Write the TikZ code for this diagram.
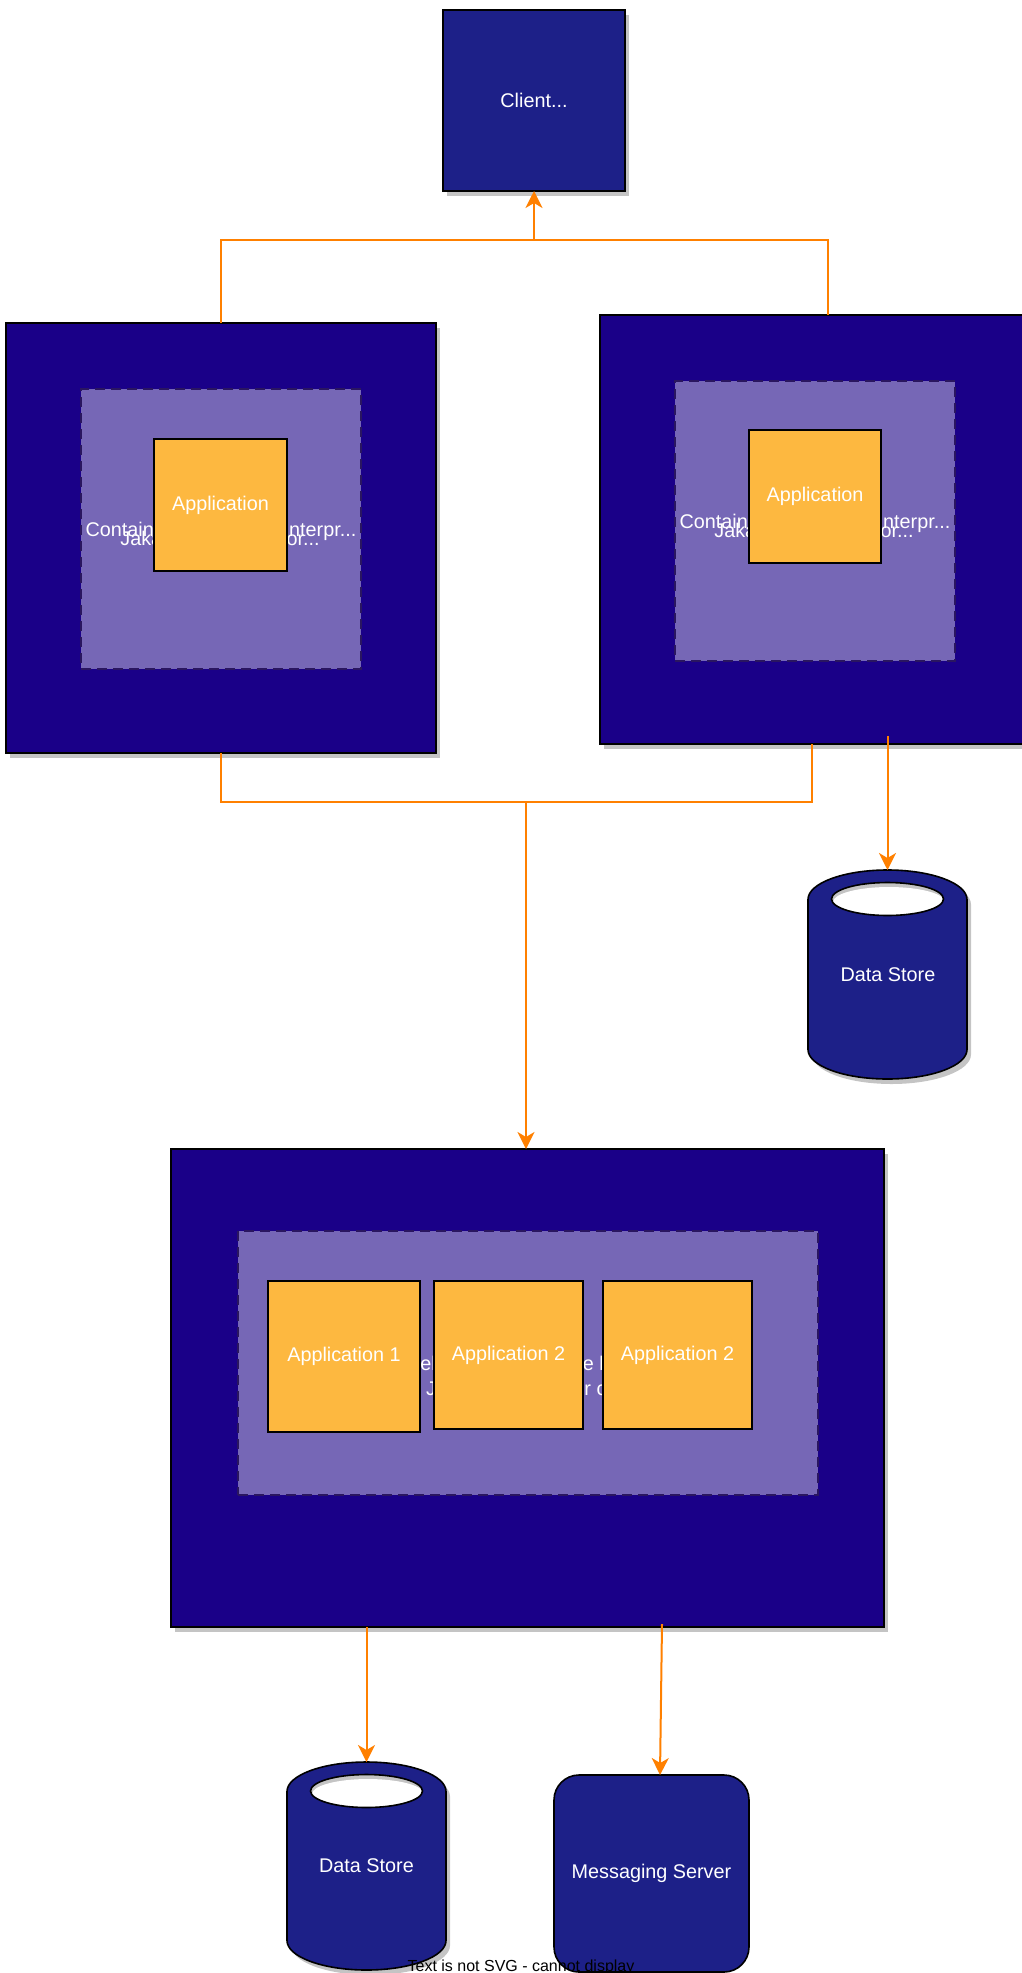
\documentclass[tikz,border=0pt]{standalone}
\usepackage{fontspec}
\setmainfont{Liberation Sans}
\usetikzlibrary{arrows.meta,calc,shadows}
\definecolor{navyA}{HTML}{1D2088}
\definecolor{navyB}{HTML}{1A0088}
\definecolor{lav}{HTML}{7667B6}
\definecolor{appc}{HTML}{FDB840}
\definecolor{orng}{HTML}{FF8000}
\definecolor{shd}{HTML}{C4C4C4}
\definecolor{dashc}{HTML}{2A1660}
\newcommand{\dbcyl}[3]{%
  \begin{scope}[shift={(4,5)}]
    \fill[shd] (#1-79.5,#2+29.5) -- (#1-79.5,#3-29.5) arc[start angle=180,end angle=0,x radius=79.5,y radius=29.5] -- (#1+79.5,#2+29.5) arc[start angle=0,end angle=-180,x radius=79.5,y radius=29.5] -- cycle;
  \end{scope}
  \filldraw[fill=navyA,draw=black,line width=1.6pt] (#1-79.5,#2+29.5) -- (#1-79.5,#3-29.5) arc[start angle=180,end angle=0,x radius=79.5,y radius=29.5] -- (#1+79.5,#2+29.5) arc[start angle=0,end angle=-180,x radius=79.5,y radius=29.5] -- cycle;
  \fill[shd] (#1,#2+29) ellipse[x radius=56,y radius=16.5];
  \begin{scope}
    \clip (#1,#2+29) ellipse[x radius=56,y radius=16.5];
    \fill[white] (#1+1.5,#2+32) ellipse[x radius=56,y radius=15];
  \end{scope}
  \draw[black,line width=1.6pt] (#1,#2+29) ellipse[x radius=56,y radius=16.5];
}
\begin{document}
\begin{tikzpicture}[x=1pt,y=-1pt,
  every node/.style={inner sep=0pt,outer sep=0pt},
  lbl/.style={text=white,font=\fontsize{19.8}{23.5}\selectfont},
  shadowed/.style={drop shadow={shadow xshift=4pt,shadow yshift=-5pt,fill=shd,opacity=1}},
  server/.style={draw=black,line width=1.6pt,fill=navyB,shadowed},
  inner/.style={draw=dashc,line width=1.4pt,dash pattern=on 10pt off 6pt,fill=lav},
  appbox/.style={draw=black,line width=1.6pt,fill=appc,lbl},
  navybox/.style={draw=black,line width=1.6pt,fill=navyA,lbl},
  conn/.style={draw=orng,line width=2pt},
  arr/.style={-{Stealth[length=17pt,width=17pt,inset=5pt]}}
]
\useasboundingbox (0,0) rectangle (1022,1973);
\clip (0,0) rectangle (1022,1973);

% Client
\node[navybox,shadowed,minimum width=182pt,minimum height=181pt] (client) at (534,100.5) {Client...};

% Left server
\node[server,minimum width=430pt,minimum height=430pt] (srvL) at (221,538) {};
\node[inner,minimum width=280pt,minimum height=280pt] (inL) at (221,529) {};
\node[lbl,anchor=base] (tL1) at (221,536) {Container for Jakarta Enterpr...};
\node[lbl,anchor=base] (tL2) at (220,545) {Jakarta EE Server or...};
\node[appbox,minimum width=133pt,minimum height=132pt] (appL) at (220.5,505) {Application};

% Right server
\node[server,minimum width=430pt,minimum height=429pt] (srvR) at (815,529.5) {};
\node[inner,minimum width=280pt,minimum height=280pt] (inR) at (815,521) {};
\node[lbl,anchor=base] (tR1) at (815,528) {Container for Jakarta Enterpr...};
\node[lbl,anchor=base] (tR2) at (814,537) {Jakarta EE Server or...};
\node[appbox,minimum width=132pt,minimum height=133pt] (appR) at (815,496.5) {Application};

% Data store 1
\dbcyl{887.5}{870}{1079}
\node[minimum width=159pt,minimum height=209pt] (ds1) at (887.5,974.5) {};
\node[lbl] (ds1t) at (888,975) {Data Store};

% WebLogic server
\node[server,minimum width=713pt,minimum height=478pt] (wls) at (527.5,1388) {};
\node[inner,minimum width=580pt,minimum height=264pt] (inW) at (528,1363) {};
\node[lbl,anchor=base west] (tW1) at (402,1370) {WebLogic Server: the leading};
\node[lbl,anchor=base west] (tW2) at (426,1395) {Jakarta EE Cluster container};
\node[appbox,minimum width=152pt,minimum height=151pt] (app1) at (344,1356.5) {Application 1};
\node[appbox,minimum width=149pt,minimum height=148pt] (app2) at (508.5,1355) {Application 2};
\node[appbox,minimum width=149pt,minimum height=148pt] (app3) at (677.5,1355) {Application 2};

% Data store 2
\dbcyl{366.5}{1762}{1970}
\node[minimum width=159pt,minimum height=208pt] (ds2) at (366.5,1866) {};
\node[lbl] (ds2t) at (366.5,1866) {Data Store};

% Messaging server
\node[navybox,rounded corners=25pt,minimum width=195pt,minimum height=197pt] (msg) at (651.5,1873.5) {Messaging Server};

% Connectors
\coordinate (jt) at (534,240);
\coordinate (jb) at (526,802);
\draw[conn] (srvL.north) |- (jt);
\draw[conn] ($(srvR.north)+(13,0)$) |- (jt);
\draw[conn,arr] (jt) -- (client.south);
\draw[conn] (srvL.south) |- (jb);
\draw[conn] ($(srvR.south)+(-3,0)$) |- (jb);
\draw[conn,arr] (jb) -- (jb |- wls.north);
\draw[conn,arr] ($(ds1.north |- srvR.south)+(0,-8)$) -- (ds1.north);
\draw[conn,arr] (ds2.north |- wls.south) -- (ds2.north);
\draw[conn,arr] ($(wls.south)+(134.5,-3)$) -- ($(msg.north)+(8.5,0)$);

% Footer text
\node[anchor=base,font=\fontsize{16}{19}\selectfont] (foot) at (521,1971) {Text is not SVG - cannot display};
\end{tikzpicture}
\end{document}
